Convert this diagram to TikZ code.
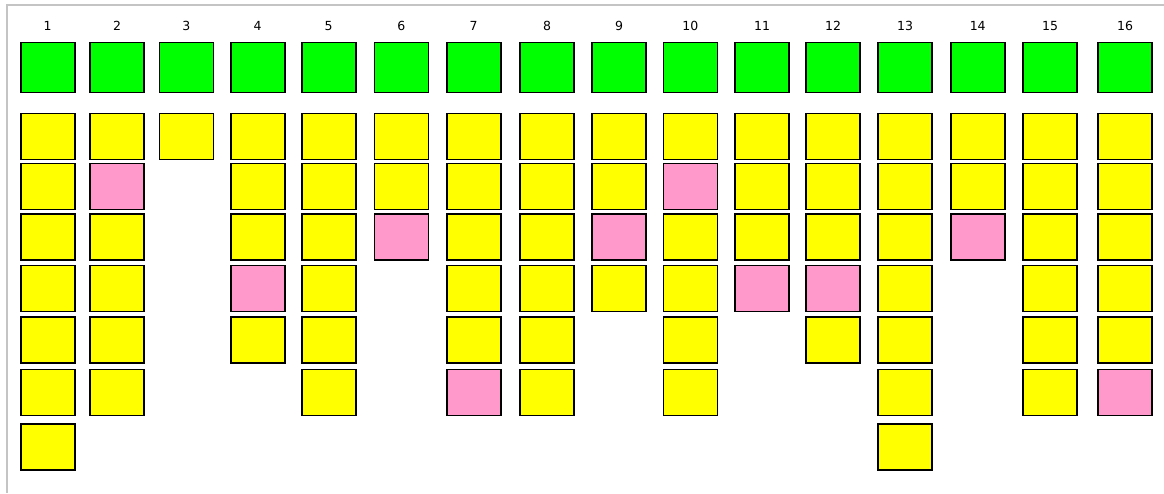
\documentclass[tikz,border=0pt]{standalone}
\usepackage{fontspec}
\setmainfont{DejaVu Sans}
\usepackage{xcolor}
\usetikzlibrary{positioning}

\definecolor{slotgreen}{HTML}{00FF00}
\definecolor{slotyellow}{HTML}{FFFF00}
\definecolor{slotpink}{HTML}{FF99CC}
\definecolor{framegray}{HTML}{C4C4C4}

\begin{document}
\begin{tikzpicture}[
  x=1pt, y=-1pt,
  head/.style={draw, line width=1.6pt, fill=slotgreen, minimum width=54pt, minimum height=50pt, inner sep=0pt},
  cell/.style={draw, line width=1.6pt, minimum width=54pt, minimum height=46pt, inner sep=0pt},
  ok/.style={cell, fill=slotyellow},
  ng/.style={cell, fill=slotpink},
  num/.style={font=\fontsize{12.5}{14}\selectfont, inner sep=0pt},
]

\useasboundingbox (0,0) rectangle (1164,493);

% 枠
\draw[framegray, line width=2pt] (1164,5) -- (7,5) -- (7,493);

% 各列: 番号・ヘッダ・セル
\foreach \i/\x/\cells in {
  1/47.7/{ok,ok,ok,ok,ok,ok,ok},
  2/117/{ok,ng,ok,ok,ok,ok},
  3/186.3/{ok},
  4/257.7/{ok,ok,ok,ng,ok},
  5/328.7/{ok,ok,ok,ok,ok,ok},
  6/401.3/{ok,ok,ng},
  7/473.7/{ok,ok,ok,ok,ok,ng},
  8/547/{ok,ok,ok,ok,ok,ok},
  9/619/{ok,ok,ng,ok},
  10/690.3/{ok,ng,ok,ok,ok,ok},
  11/762/{ok,ok,ok,ng},
  12/833/{ok,ok,ok,ng,ok},
  13/905/{ok,ok,ok,ok,ok,ok,ok},
  14/977.7/{ok,ok,ng},
  15/1050/{ok,ok,ok,ok,ok,ok},
  16/1125/{ok,ok,ok,ok,ok,ng}} {
  \node[num] (n\i) at (\x,26.3) {\i};
  \node[head] (h\i) at (\x,67.3) {};
  \foreach \kind [count=\r] in \cells {
    \pgfmathsetmacro{\yy}{{136.5,186.5,237,288.5,340,392.5,447}[\r-1]}
    \node[\kind] (c\i-\r) at (\x,\yy) {};
  }
}

\end{tikzpicture}
\end{document}
